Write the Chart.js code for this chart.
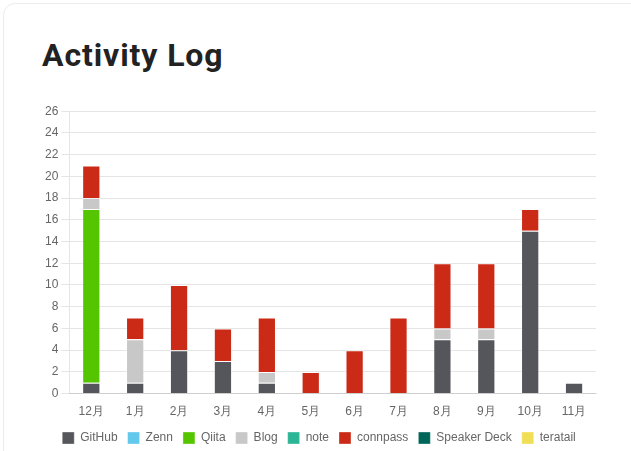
<!DOCTYPE html>
<html>
<head>
<meta charset="utf-8">
<script src="https://cdn.jsdelivr.net/npm/chart.js@4"></script>
<style>
  html, body { margin: 0; padding: 0; background: #fff; }
  body { width: 631px; height: 451px; overflow: hidden; position: relative; }
  .card {
    position: absolute; left: 3px; top: 3px; width: 720px; height: 560px;
    border: 1px solid #ececec; border-radius: 12px; box-sizing: border-box;
  }
  h1 {
    position: absolute; left: 42px; top: 39px; margin: 0;
    font-family: Roboto, sans-serif; font-weight: 700; font-size: 32px;
    letter-spacing: 0.9px; color: #222; line-height: 1;
  }
  .wrap { position: absolute; left: 42px; top: 101px; width: 568px; height: 353px; }
</style>
</head>
<body>
<div class="card"></div>
<h1>Activity Log</h1>
<div class="wrap"><canvas id="activityChart"></canvas></div>
<script>
// Months and per-service counts
const months = ['12月', '1月', '2月', '3月', '4月', '5月', '6月', '7月', '8月', '9月', '10月', '11月'];
const github      = [1, 1, 4, 3, 1, 0, 0, 0, 5, 5, 15, 1];
const zenn        = [0, 0, 0, 0, 0, 0, 0, 0, 0, 0, 0, 0];
const qiita       = [16, 0, 0, 0, 0, 0, 0, 0, 0, 0, 0, 0];
const blog        = [1, 4, 0, 0, 1, 0, 0, 0, 1, 1, 0, 0];
const note        = [0, 0, 0, 0, 0, 0, 0, 0, 0, 0, 0, 0];
const connpass    = [3, 2, 6, 3, 5, 2, 4, 7, 6, 6, 2, 0];
const speakerDeck = [0, 0, 0, 0, 0, 0, 0, 0, 0, 0, 0, 0];
const teratail    = [0, 0, 0, 0, 0, 0, 0, 0, 0, 0, 0, 0];

const services = [
  { label: 'GitHub', data: github, color: '#55565b' },
  { label: 'Zenn', data: zenn, color: '#62c8ec' },
  { label: 'Qiita', data: qiita, color: '#55c500' },
  { label: 'Blog', data: blog, color: '#c8c8c8' },
  { label: 'note', data: note, color: '#2cb696' },
  { label: 'connpass', data: connpass, color: '#cb2a17' },
  { label: 'Speaker Deck', data: speakerDeck, color: '#00665a' },
  { label: 'teratail', data: teratail, color: '#f0de55' }
];

Chart.defaults.font.family = "'Liberation Sans', Arial, sans-serif";
Chart.defaults.font.size = 12;
Chart.defaults.color = '#666';

const ctx = document.getElementById('activityChart').getContext('2d');
new Chart(ctx, {
  type: 'bar',
  data: {
    labels: months,
    datasets: services.map(s => ({
      label: s.label,
      data: s.data,
      backgroundColor: s.color,
      borderColor: 'rgba(255,255,255,0.35)',
      borderWidth: 1,
      barPercentage: 0.52,
      categoryPercentage: 0.8
    }))
  },
  options: {
    responsive: true,
    maintainAspectRatio: false,
    animation: false,
    layout: { padding: { right: 14 } },
    plugins: {
      legend: {
        position: 'bottom',
        labels: { boxWidth: 12, boxHeight: 12, padding: 10 }
      },
      tooltip: { enabled: false }
    },
    scales: {
      x: {
        stacked: true,
        grid: { display: false },
        border: { color: 'rgba(0,0,0,0.1)' }
      },
      y: {
        stacked: true,
        min: 0,
        max: 26,
        ticks: { stepSize: 2 },
        grid: { color: 'rgba(0,0,0,0.1)' },
        border: { color: 'rgba(0,0,0,0.1)' }
      }
    }
  }
});
</script>
</body>
</html>
